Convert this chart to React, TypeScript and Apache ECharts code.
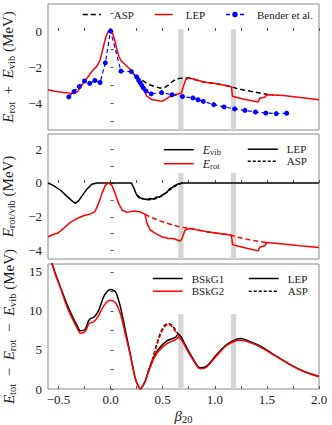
import React, { useEffect, useRef } from 'react';
import * as echarts from 'echarts';

const FONT = 'Liberation Serif';

// ---------- axis ticks / labels ----------
const xTicks = [-0.5, -0.25, 0, 0.25, 0.5, 0.75, 1, 1.25, 1.5, 1.75, 2];
const xLabels = [-0.5, 0, 0.5, 1, 1.5, 2];
const y1Ticks = [-5, -4, -3, -2, -1, 0, 1];
const y1Labels = [-4, -2, 0];
const y2Ticks = [-4, -3, -2, -1, 0, 1, 2];
const y2Labels = [-4, -2, 0, 2];
const y3Ticks = [0, 2.5, 5, 7.5, 10, 12.5, 15];
const y3Labels = [0, 5, 10, 15];

// grey bands
const bandLo = [0.65, 1.155];
const bandHi = [0.70, 1.205];
const bandTop = [0.1, 0.6, 9.6];

// ---------- panel 1 : E_rot + E_vib ----------
const p1LepBeta = [-0.60, -0.55, -0.50, -0.45, -0.40, -0.35, -0.32, -0.29, -0.26, -0.22, -0.19, -0.16, -0.13, -0.10, -0.08, -0.06, -0.04, -0.02, 0.00, 0.02, 0.04, 0.06, 0.08, 0.10, 0.14, 0.19, 0.24, 0.27, 0.30, 0.32, 0.35, 0.40, 0.45, 0.49, 0.52, 0.57, 0.60, 0.66, 0.68, 0.70, 0.72, 0.75, 0.80, 0.89, 1.02, 1.15, 1.16, 1.17, 1.27, 1.42, 1.43, 1.48, 1.50, 1.66, 1.82, 2.00];
const p1LepVal = [-3.26, -3.33, -3.38, -3.42, -3.45, -3.47, -3.38, -3.15, -2.88, -2.58, -2.33, -2.12, -1.95, -1.60, -1.15, -0.68, -0.25, 0.00, -0.04, -0.12, -0.50, -1.02, -1.40, -1.65, -1.86, -2.14, -2.51, -2.68, -3.00, -3.28, -3.63, -3.82, -3.86, -3.91, -3.82, -3.63, -3.55, -3.48, -3.44, -3.05, -2.72, -2.60, -2.68, -2.83, -2.93, -3.08, -3.13, -3.63, -3.78, -3.94, -3.73, -3.68, -3.54, -3.59, -3.69, -3.82];
const p1AspBeta = [0.24, 0.27, 0.30, 0.34, 0.38, 0.42, 0.47, 0.51, 0.55, 0.59, 0.63, 0.67, 0.72, 0.75, 0.80, 0.89, 1.02, 1.15, 1.22, 1.34, 1.50, 1.56];
const p1AspVal = [-2.51, -2.62, -2.72, -2.88, -3.00, -3.08, -3.16, -3.17, -3.02, -2.82, -2.66, -2.63, -2.62, -2.60, -2.68, -2.83, -2.93, -3.08, -3.21, -3.35, -3.52, -3.56];
const benderBeta = [-0.40, -0.35, -0.30, -0.25, -0.20, -0.15, -0.10, -0.05, 0.00, 0.10, 0.20, 0.25, 0.27, 0.285, 0.30, 0.315, 0.34, 0.39, 0.49, 0.59, 0.69, 0.79, 0.84, 0.89, 0.99, 1.09, 1.19, 1.29, 1.39, 1.49, 1.59, 1.69];
const benderVal = [-3.66, -3.36, -3.09, -2.78, -2.91, -2.75, -2.86, -1.77, 0.00, -2.23, -2.26, -2.55, -2.74, -2.88, -3.02, -3.16, -3.33, -3.49, -3.42, -3.54, -3.64, -3.72, -3.82, -3.91, -4.09, -4.22, -4.33, -4.41, -4.50, -4.56, -4.59, -4.57];

// ---------- panel 2 : E_rot / E_vib ----------
const p2VibBeta = [-0.60, -0.55, -0.48, -0.42, -0.37, -0.34, -0.31, -0.275, -0.23, -0.18, -0.13, 0.20, 0.22, 0.245, 0.27, 0.32, 0.35, 0.38, 0.41, 0.44, 0.47, 0.51, 0.54, 0.57, 0.61, 0.64, 0.68, 2.00];
const p2VibVal = [0, -0.14, -0.43, -0.78, -1.06, -1.20, -1.08, -0.78, -0.39, -0.08, 0, 0, -0.24, -0.63, -0.86, -0.94, -0.98, -0.92, -0.95, -0.84, -0.82, -0.66, -0.55, -0.33, -0.18, -0.08, 0, 0];
const p2VibAspBeta = [0.25, 0.30, 0.35, 0.40, 0.45, 0.50, 0.55, 0.60, 0.65, 0.69];
const p2VibAspVal = [-0.70, -0.92, -1.00, -0.98, -0.90, -0.74, -0.50, -0.26, -0.08, 0];
const p2RotBeta = [-0.60, -0.55, -0.51, -0.45, -0.39, -0.32, -0.26, -0.195, -0.15, -0.115, -0.083, -0.05, -0.02, 0.013, 0.045, 0.077, 0.11, 0.157, 0.22, 0.28, 0.33, 0.35, 0.38, 0.43, 0.49, 0.555, 0.60, 0.667, 0.683, 0.715, 0.76, 0.92, 1.15, 1.16, 1.172, 1.306, 1.417, 1.43, 1.48, 1.498, 1.657, 1.817, 2.00];
const p2RotVal = [-3.18, -3.05, -2.98, -2.69, -2.35, -2.10, -1.94, -1.84, -1.70, -1.21, -0.63, -0.14, 0, -0.14, -0.63, -1.21, -1.60, -1.74, -1.66, -1.70, -1.84, -2.39, -2.78, -2.98, -3.18, -3.29, -3.29, -3.43, -3.33, -2.78, -2.69, -2.88, -3.08, -3.18, -3.66, -3.86, -4.02, -3.80, -3.72, -3.53, -3.61, -3.72, -3.82];
const p2RotAspBeta = [0.33, 0.36, 0.40, 0.45, 0.50, 0.55, 0.60, 0.65, 0.70, 0.76, 0.92, 1.15, 1.22, 1.34, 1.50];
const p2RotAspVal = [-1.84, -1.95, -2.06, -2.18, -2.30, -2.40, -2.49, -2.57, -2.63, -2.69, -2.88, -3.08, -3.21, -3.37, -3.53];

// ---------- panel 3 : E_tot - E_rot - E_vib ----------
const p3Beta = [-0.60, -0.56, -0.53, -0.48, -0.42, -0.37, -0.32, -0.29, -0.26, -0.24, -0.21, -0.19, -0.16, -0.115, -0.067, -0.03, 0.00, 0.048, 0.095, 0.143, 0.19, 0.236, 0.265, 0.285, 0.30, 0.332, 0.364, 0.412, 0.459, 0.54, 0.62, 0.65, 0.68, 0.73, 0.795, 0.86, 0.923, 1.02, 1.117, 1.21, 1.25, 1.306, 1.434, 1.562, 1.72, 1.85, 2.00];
const bskg1Lep = [17.5, 16.0, 14.8, 13.0, 10.9, 9.4, 8.1, 7.45, 7.5, 7.7, 8.75, 9.05, 9.18, 10.04, 11.77, 12.5, 12.75, 12.42, 10.48, 7.45, 4.44, 1.42, 0.4, 0.0, 0.2, 0.98, 2.28, 4.0, 5.08, 6.16, 6.6, 7.0, 6.6, 5.3, 3.79, 2.71, 2.93, 4.44, 5.73, 6.38, 6.45, 6.25, 5.51, 4.44, 3.14, 2.28, 1.6];
const bskg2Lep = [17.7, 16.0, 14.7, 12.9, 10.6, 9.1, 7.8, 7.15, 7.2, 7.4, 8.3, 8.5, 8.6, 9.4, 10.6, 11.2, 11.35, 11.0, 9.6, 7.0, 4.3, 1.4, 0.4, 0.0, 0.2, 0.95, 2.2, 3.8, 4.8, 5.8, 6.3, 6.6, 6.3, 5.1, 3.65, 2.6, 2.82, 4.3, 5.6, 6.2, 6.25, 6.1, 5.4, 4.4, 3.12, 2.27, 1.6];
const p3AspBeta = [0.36, 0.40, 0.44, 0.48, 0.52, 0.555, 0.59, 0.62, 0.65, 0.68];
const bskg1Asp = [2.2, 3.7, 5.6, 7.2, 8.15, 8.4, 8.15, 7.6, 7.05, 6.6];
const bskg2Asp = [2.15, 3.55, 5.4, 7.0, 8.0, 8.25, 8.0, 7.4, 6.8, 6.3];

const pairs = (xs: number[], ys: number[]) => xs.map((x, i) => [x, ys[i]]);
const minus = (s: string) => s.replace('-', '\u2212');

const legendText: Record<string, string> = {
  'ASP': '{n|ASP}',
  'LEP': '{n|LEP}',
  'Bender et al.': '{n|Bender et al.}',
  'Evib': '{i|E}{s|vib}',
  'Erot': '{i|E}{s|rot}',
  'LEP2': '{n|LEP}',
  'ASP2': '{n|ASP}',
  'BSkG1': '{n|BSkG1}',
  'BSkG2': '{n|BSkG2}',
  'LEP3': '{n|LEP}',
  'ASP3': '{n|ASP}',
};

const TXT = '#222';

const titleRich = {
  n: { fontFamily: FONT, fontSize: 15, lineHeight: 18, color: TXT },
  i: { fontFamily: FONT, fontStyle: 'italic', fontSize: 15, lineHeight: 18, color: TXT },
  s: { fontFamily: FONT, fontSize: 10.5, lineHeight: 18, verticalAlign: 'bottom', color: TXT },
};
const legendRich = {
  n: { fontFamily: FONT, fontSize: 11, lineHeight: 14, color: TXT },
  i: { fontFamily: FONT, fontStyle: 'italic', fontSize: 12, lineHeight: 14, color: TXT },
  s: { fontFamily: FONT, fontSize: 8.5, lineHeight: 14, verticalAlign: 'bottom', color: TXT },
};

export default function App() {
  const ref = useRef<HTMLDivElement>(null);
  useEffect(() => {
    const chart = echarts.init(ref.current!, null, { renderer: 'svg' });
    const yMins = [-5.5, -4.5, 0];
    const yMaxs = [1.5, 2.9, 16];
    const tops = [4, 134, 264];
    const heights = [126, 125, 125];
    const yTickSets = [y1Ticks, y2Ticks, y3Ticks];
    const yLabelSets = [y1Labels, y2Labels, y3Labels];
    const yNames = [
      '{i|E}{s|rot}{n|\u2002+\u2002}{i|E}{s|vib}{n| (MeV)}',
      '{i|E}{s|rot/vib}{n| (MeV)}',
      '{i|E}{s|tot}{n|\u2002\u2212\u2002}{i|E}{s|rot}{n|\u2002\u2212\u2002}{i|E}{s|vib}{n| (MeV)}',
    ];

    const grids = [0, 1, 2].map((k) => ({
      left: 48,
      right: 13,
      top: tops[k],
      height: heights[k],
      show: true,
      borderColor: '#8a8a8a',
      borderWidth: 1,
      backgroundColor: 'transparent',
      outerBoundsMode: 'none',
    }));

    const xAxes = [0, 1, 2].map((k) => ({
      type: 'value',
      gridIndex: k,
      min: -0.6,
      max: 2.0,
      axisLine: { show: false },
      splitLine: { show: false },
      axisTick: { inside: true, length: 3, lineStyle: { color: '#555' }, customValues: xTicks },
      axisLabel: {
        show: k === 2,
        customValues: xLabels,
        margin: 4,
        fontFamily: FONT,
        fontSize: 13,
        color: TXT,
        formatter: (v: number) => minus(v.toFixed(1)),
      },
      name: k === 2 ? '{i|β}{s|20}' : '',
      nameLocation: 'middle',
      nameGap: 12,
      nameTextStyle: { fontFamily: FONT, fontSize: 15, color: TXT, lineHeight: 18, rich: titleRich },
    }));

    const yAxes = [0, 1, 2].map((k) => ({
      type: 'value',
      gridIndex: k,
      min: yMins[k],
      max: yMaxs[k],
      axisLine: { show: false },
      splitLine: { show: false },
      axisTick: { inside: true, length: 3, lineStyle: { color: '#555' }, customValues: yTickSets[k] },
      axisLabel: {
        customValues: yLabelSets[k],
        margin: 6,
        fontFamily: FONT,
        fontSize: 13,
        color: TXT,
        formatter: (v: number) => minus(String(v)),
      },
      name: yNames[k],
      nameLocation: 'middle',
      nameGap: 27,
      nameTextStyle: { fontFamily: FONT, fontSize: 15, color: TXT, lineHeight: 18, rich: titleRich },
    }));

    const base = { type: 'line', symbol: 'none', z: 3, silent: true };
    const band = (k: number) => ({
      type: 'line',
      xAxisIndex: k,
      yAxisIndex: k,
      data: [],
      silent: true,
      z: 1,
      markArea: {
        silent: true,
        z: 1,
        itemStyle: { color: '#d6d6d6' },
        data: bandLo.map((lo, i) => [{ coord: [lo, bandTop[k]] }, { coord: [bandHi[i], yMins[k]] }]),
      },
    });

    const series: any[] = [
      band(0), band(1), band(2),
      // panel 1
      { ...base, name: 'ASP', xAxisIndex: 0, yAxisIndex: 0, color: '#000', data: pairs(p1AspBeta, p1AspVal), lineStyle: { color: '#000', width: 1.5, type: [5, 3] } },
      { ...base, name: 'LEP', xAxisIndex: 0, yAxisIndex: 0, color: '#ff0000', data: pairs(p1LepBeta, p1LepVal), lineStyle: { color: '#ff0000', width: 1.5 } },
      { ...base, name: 'Bender et al.', xAxisIndex: 0, yAxisIndex: 0, color: '#0000ff', symbol: 'circle', symbolSize: 5, data: pairs(benderBeta, benderVal), itemStyle: { color: '#0000ff' }, lineStyle: { color: '#0000ff', width: 1.2, type: [4, 3] } },
      // panel 2
      { ...base, name: 'Evib ASP', xAxisIndex: 1, yAxisIndex: 1, color: '#000', data: pairs(p2VibAspBeta, p2VibAspVal), lineStyle: { color: '#000', width: 1.5, type: [4, 2] } },
      { ...base, name: 'Evib', xAxisIndex: 1, yAxisIndex: 1, color: '#000', data: pairs(p2VibBeta, p2VibVal), lineStyle: { color: '#000', width: 1.5 } },
      { ...base, name: 'Erot ASP', xAxisIndex: 1, yAxisIndex: 1, color: '#ff0000', data: pairs(p2RotAspBeta, p2RotAspVal), lineStyle: { color: '#ff0000', width: 1.5, type: [5, 3] } },
      { ...base, name: 'Erot', xAxisIndex: 1, yAxisIndex: 1, color: '#ff0000', data: pairs(p2RotBeta, p2RotVal), lineStyle: { color: '#ff0000', width: 1.5 } },
      { ...base, name: 'LEP2', xAxisIndex: 1, yAxisIndex: 1, color: '#000', data: [], lineStyle: { color: '#000', width: 1.5 } },
      { ...base, name: 'ASP2', xAxisIndex: 1, yAxisIndex: 1, color: '#000', data: [], lineStyle: { color: '#000', width: 1.5, type: [3, 2] } },
      // panel 3
      { ...base, name: 'BSkG1', xAxisIndex: 2, yAxisIndex: 2, color: '#000', smooth: 0.3, data: pairs(p3Beta, bskg1Lep), lineStyle: { color: '#000', width: 1.5 } },
      { ...base, name: 'BSkG2', xAxisIndex: 2, yAxisIndex: 2, color: '#ff0000', smooth: 0.3, data: pairs(p3Beta, bskg2Lep), lineStyle: { color: '#ff0000', width: 1.5 } },
      { ...base, name: 'BSkG1 ASP', xAxisIndex: 2, yAxisIndex: 2, color: '#000', smooth: 0.3, data: pairs(p3AspBeta, bskg1Asp), lineStyle: { color: '#000', width: 1.5, type: [4, 2] } },
      { ...base, name: 'BSkG2 ASP', xAxisIndex: 2, yAxisIndex: 2, color: '#ff0000', smooth: 0.3, data: pairs(p3AspBeta, bskg2Asp), lineStyle: { color: '#ff0000', width: 1.5, type: [4, 2] } },
      { ...base, name: 'LEP3', xAxisIndex: 2, yAxisIndex: 2, color: '#000', data: [], lineStyle: { color: '#000', width: 1.5 } },
      { ...base, name: 'ASP3', xAxisIndex: 2, yAxisIndex: 2, color: '#000', data: [], lineStyle: { color: '#000', width: 1.5, type: [3, 2] } },
    ];

    const noSym = (n: string) => ({ name: n, itemStyle: { opacity: 0 } });
    const legendBase = {
      selectedMode: false,
      padding: 0,
      formatter: (n: string) => legendText[n] ?? n,
      lineStyle: { width: 1.5 },
      textStyle: { fontFamily: FONT, fontSize: 11, color: TXT, padding: [0, 0, 0, 4], rich: legendRich },
    };
    const legends = [
      { ...legendBase, left: 82, top: 9, orient: 'horizontal', itemWidth: 18, itemHeight: 7, itemGap: 20,
        textStyle: { ...legendBase.textStyle, padding: [0, 0, 0, 8] },
        data: [noSym('ASP'), noSym('LEP'), { name: 'Bender et al.' }] },
      { ...legendBase, left: 163, top: 143.7, orient: 'vertical', itemWidth: 30, itemHeight: 12, itemGap: 1, data: [noSym('Evib'), noSym('Erot')] },
      { ...legendBase, left: 247, top: 143.7, orient: 'vertical', itemWidth: 30, itemHeight: 12, itemGap: 1, data: [noSym('LEP2'), noSym('ASP2')] },
      { ...legendBase, left: 152, top: 273, orient: 'vertical', itemWidth: 30, itemHeight: 12, itemGap: 1.7, data: [noSym('BSkG1'), noSym('BSkG2')] },
      { ...legendBase, left: 248, top: 273, orient: 'vertical', itemWidth: 30, itemHeight: 12, itemGap: 1.7, data: [noSym('LEP3'), noSym('ASP3')] },
    ];

    chart.setOption({
      animation: false,
      backgroundColor: '#fff',
      grid: grids,
      xAxis: xAxes,
      yAxis: yAxes,
      legend: legends,
      series,
    });
    return () => chart.dispose();
  }, []);
  return (
    <div
      ref={ref}
      style={{ position: 'fixed', left: 0, top: 0, width: 332, height: 425, background: '#fff' }}
    />
  );
}
